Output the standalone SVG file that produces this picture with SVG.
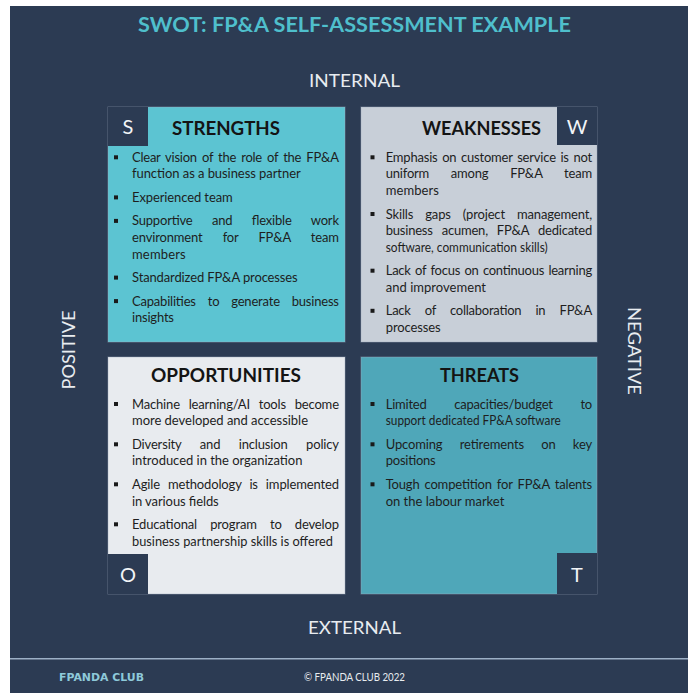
<svg xmlns="http://www.w3.org/2000/svg" width="688" height="693" viewBox="0 0 688 693">
  <style>
    .panel { fill: #2c3b53; }
    .quad { stroke: #9fb0c2; stroke-opacity: 0.45; stroke-width: 1; }
    .tag { fill: #2c3b53; }
    .tagtxt { font-family: Lato, "Liberation Sans", sans-serif; font-size: 20px; fill: #f2f4f7; text-anchor: middle; }
    .head { font-family: Lato, "Liberation Sans", sans-serif; font-weight: 700; font-size: 19px; fill: #141414; text-anchor: middle; }
    .body { font-family: Lato, "Liberation Sans", sans-serif; font-size: 13px; fill: #1e1e1e; }
    .bullet { fill: #1a1a1a; }
    .axis { font-family: Lato, "Liberation Sans", sans-serif; font-size: 18px; fill: #e8ecf0; text-anchor: middle; }
    .title { font-family: Lato, "Liberation Sans", sans-serif; font-weight: 700; font-size: 21px; fill: #4fbfcc; text-anchor: middle; }
    .foot { font-family: Lato, "Liberation Sans", sans-serif; font-size: 11px; fill: #e8ecf0; }
    .brand { font-family: "DejaVu Sans", sans-serif; font-weight: 700; font-size: 11px; fill: #8ec9d9; }
  </style>

  <!-- background panel -->
  <rect class="panel" x="10" y="6" width="678" height="687"/>

  <!-- heading and axis labels -->
  <text class="title" x="354.5" y="31.5" textLength="433" lengthAdjust="spacingAndGlyphs">SWOT: FP&amp;A SELF-ASSESSMENT EXAMPLE</text>
  <text class="axis" x="354.5" y="86.5" textLength="91" lengthAdjust="spacingAndGlyphs">INTERNAL</text>
  <text class="axis" x="354.5" y="633.5" textLength="93" lengthAdjust="spacingAndGlyphs">EXTERNAL</text>
  <text class="axis" transform="translate(75 350) rotate(-90)" textLength="79" lengthAdjust="spacingAndGlyphs">POSITIVE</text>
  <text class="axis" transform="translate(627.5 351) rotate(90)" textLength="88" lengthAdjust="spacingAndGlyphs">NEGATIVE</text>

  <!-- Strengths -->
  <g id="strengths">
    <rect class="quad" x="108" y="107" width="237" height="235" fill="#5cc4d2"/>
    <rect class="tag" x="108" y="107" width="40" height="39"/>
    <text class="tagtxt" x="128" y="134">S</text>
    <text class="head" x="226" y="135" textLength="108" lengthAdjust="spacingAndGlyphs">STRENGTHS</text>
    <rect class="bullet" x="114" y="155.3" width="4" height="4"/>
    <rect class="bullet" x="114" y="195.4" width="4" height="4"/>
    <rect class="bullet" x="114" y="218.9" width="4" height="4"/>
    <rect class="bullet" x="114" y="275.6" width="4" height="4"/>
    <rect class="bullet" x="114" y="299.1" width="4" height="4"/>
    <text class="body" x="132" y="161.8" word-spacing="2" textLength="207" lengthAdjust="spacing">Clear vision of the role of the FP&amp;A</text>
    <text class="body" x="132" y="178.4" textLength="168.7" lengthAdjust="spacing">function as a business partner</text>
    <text class="body" x="132" y="201.9" textLength="100.7" lengthAdjust="spacing">Experienced team</text>
    <text class="body" x="132" y="225.4" word-spacing="16.3" textLength="207" lengthAdjust="spacing">Supportive and flexible work</text>
    <text class="body" x="132" y="242" word-spacing="16.9" textLength="207" lengthAdjust="spacing">environment for FP&amp;A team</text>
    <text class="body" x="132" y="258.6" textLength="53.7" lengthAdjust="spacing">members</text>
    <text class="body" x="132" y="282.1" textLength="165.7" lengthAdjust="spacing">Standardized FP&amp;A processes</text>
    <text class="body" x="132" y="305.6" word-spacing="8.8" textLength="207" lengthAdjust="spacing">Capabilities to generate business</text>
    <text class="body" x="132" y="322.2" textLength="42" lengthAdjust="spacing">insights</text>
  </g>

  <!-- Weaknesses -->
  <g id="weaknesses">
    <rect class="quad" x="361" y="107" width="236" height="235" fill="#c8cfd8"/>
    <rect class="tag" x="557" y="107" width="40" height="38"/>
    <text class="tagtxt" x="577" y="134">W</text>
    <text class="head" x="481.5" y="135" textLength="119" lengthAdjust="spacingAndGlyphs">WEAKNESSES</text>
    <rect class="bullet" x="370.5" y="155.3" width="4" height="4"/>
    <rect class="bullet" x="370.5" y="212" width="4" height="4"/>
    <rect class="bullet" x="370.5" y="268.7" width="4" height="4"/>
    <rect class="bullet" x="370.5" y="308.8" width="4" height="4"/>
    <text class="body" x="385.7" y="161.8" word-spacing="1.5" textLength="206.5" lengthAdjust="spacing">Emphasis on customer service is not</text>
    <text class="body" x="385.7" y="178.4" word-spacing="18.6" textLength="206.5" lengthAdjust="spacing">uniform among FP&amp;A team</text>
    <text class="body" x="385.7" y="195" textLength="53.3" lengthAdjust="spacing">members</text>
    <text class="body" x="385.7" y="218.5" word-spacing="8.8" textLength="206.5" lengthAdjust="spacing">Skills gaps (project management,</text>
    <text class="body" x="385.7" y="235.1" word-spacing="5.8" textLength="206.5" lengthAdjust="spacing">business acumen, FP&amp;A dedicated</text>
    <text class="body" x="385.7" y="251.7" textLength="162" lengthAdjust="spacingAndGlyphs">software, communication skills)</text>
    <text class="body" x="385.7" y="275.2" word-spacing="1.3" textLength="206.5" lengthAdjust="spacing">Lack of focus on continuous learning</text>
    <text class="body" x="385.7" y="291.8" textLength="100.3" lengthAdjust="spacing">and improvement</text>
    <text class="body" x="385.7" y="315.3" word-spacing="11.1" textLength="206.5" lengthAdjust="spacing">Lack of collaboration in FP&amp;A</text>
    <text class="body" x="385.7" y="331.9" textLength="55" lengthAdjust="spacing">processes</text>
  </g>

  <!-- Opportunities -->
  <g id="opportunities">
    <rect class="quad" x="108" y="357" width="237" height="237" fill="#e8ebef"/>
    <rect class="tag" x="108" y="554" width="40" height="40"/>
    <text class="tagtxt" x="128" y="582">O</text>
    <text class="head" x="226" y="381.7" textLength="150" lengthAdjust="spacingAndGlyphs">OPPORTUNITIES</text>
    <rect class="bullet" x="114" y="402" width="4" height="4"/>
    <rect class="bullet" x="114" y="442.3" width="4" height="4"/>
    <rect class="bullet" x="114" y="482.3" width="4" height="4"/>
    <rect class="bullet" x="114" y="522.3" width="4" height="4"/>
    <text class="body" x="132" y="408.5" word-spacing="5.7" textLength="207" lengthAdjust="spacing">Machine learning/AI tools become</text>
    <text class="body" x="132" y="425.2" textLength="176" lengthAdjust="spacing">more developed and accessible</text>
    <text class="body" x="132" y="448.8" word-spacing="15.3" textLength="207" lengthAdjust="spacing">Diversity and inclusion policy</text>
    <text class="body" x="132" y="465.2" textLength="170.4" lengthAdjust="spacing">introduced in the organization</text>
    <text class="body" x="132" y="488.8" word-spacing="4.8" textLength="207" lengthAdjust="spacing">Agile methodology is implemented</text>
    <text class="body" x="132" y="505.5" textLength="86.7" lengthAdjust="spacing">in various fields</text>
    <text class="body" x="132" y="528.8" word-spacing="10" textLength="207" lengthAdjust="spacing">Educational program to develop</text>
    <text class="body" x="132" y="545.5" textLength="201" lengthAdjust="spacingAndGlyphs">business partnership skills is offered</text>
  </g>

  <!-- Threats -->
  <g id="threats">
    <rect class="quad" x="361" y="357" width="236" height="237" fill="#4fa7b9"/>
    <rect class="tag" x="557" y="553" width="40" height="41"/>
    <text class="tagtxt" x="577" y="582">T</text>
    <text class="head" x="479.5" y="381.7" textLength="79" lengthAdjust="spacingAndGlyphs">THREATS</text>
    <rect class="bullet" x="370.5" y="402" width="4" height="4"/>
    <rect class="bullet" x="370.5" y="442.3" width="4" height="4"/>
    <rect class="bullet" x="370.5" y="482.3" width="4" height="4"/>
    <text class="body" x="385.7" y="408.5" word-spacing="24.6" textLength="206.5" lengthAdjust="spacing">Limited capacities/budget to</text>
    <text class="body" x="385.7" y="425.2" textLength="175" lengthAdjust="spacingAndGlyphs">support dedicated FP&amp;A software</text>
    <text class="body" x="385.7" y="448.8" word-spacing="14.1" textLength="206.5" lengthAdjust="spacing">Upcoming retirements on key</text>
    <text class="body" x="385.7" y="465.2" textLength="50" lengthAdjust="spacing">positions</text>
    <text class="body" x="385.7" y="488.8" word-spacing="1.9" textLength="206.5" lengthAdjust="spacing">Tough competition for FP&amp;A talents</text>
    <text class="body" x="385.7" y="505.5" textLength="118.6" lengthAdjust="spacing">on the labour market</text>
  </g>

  <!-- footer -->
  <line x1="10" y1="658.7" x2="688" y2="658.7" stroke="#9db0c6" stroke-width="1.5"/>
  <text class="brand" x="59" y="681" textLength="85" lengthAdjust="spacingAndGlyphs">FPANDA CLUB</text>
  <text class="foot" x="304" y="681" textLength="101" lengthAdjust="spacingAndGlyphs">© FPANDA CLUB 2022</text>
</svg>
